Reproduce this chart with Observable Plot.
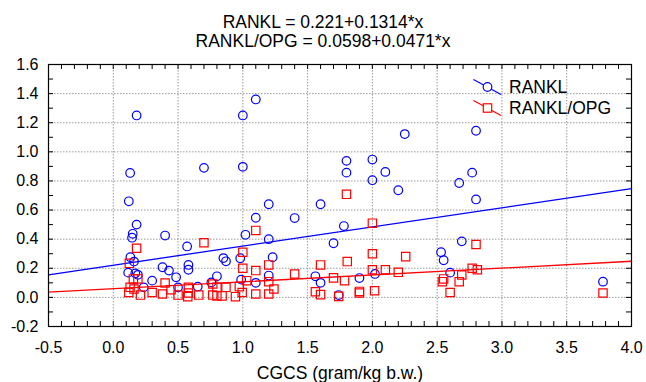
<!DOCTYPE html>
<html><head><meta charset="utf-8">
<script src="https://cdn.jsdelivr.net/npm/d3@7"></script>
<script src="https://cdn.jsdelivr.net/npm/@observablehq/plot@0.6"></script>
<style>
body{margin:0;background:#fff;font-family:"Liberation Sans",Arial,sans-serif;}
#title{width:646px;height:52px;box-sizing:border-box;padding-top:12.5px;text-align:center;font-size:17.5px;line-height:19.5px;color:#000;}
#chart svg{display:block;}
</style></head><body>
<div id="title"></div>
<div id="chart"></div>
<script>
const titleLines = ["RANKL = 0.221+0.1314*x", "RANKL/OPG = 0.0598+0.0471*x"];
const xLabel = "CGCS (gram/kg b.w.)";
const seriesNames = ["RANKL", "RANKL/OPG"];
const seriesColors = ["#0000ff", "#ff0000"];
const intercepts = [0.221, 0.0598];
const slopes = [0.1314, 0.0471];
const xTicks = [-0.5, 0.0, 0.5, 1.0, 1.5, 2.0, 2.5, 3.0, 3.5, 4.0];
const yTicks = [-0.2, 0.0, 0.2, 0.4, 0.6, 0.8, 1.0, 1.2, 1.4, 1.6];

const rankX = [0.12,0.13,0.18,0.18,0.15,0.145,0.132,0.16,0.115,0.17,0.19,0.235,0.30,0.38,0.40,0.43,0.485,0.50,0.57,0.58,0.58,0.652,0.70,0.757,0.80,0.85,0.87,0.98,0.987,1.00,1.00,1.02,1.10,1.10,1.10,1.20,1.20,1.23,1.20,1.40,1.56,1.60,1.60,1.70,1.74,1.78,1.80,1.80,1.90,2.00,2.00,2.02,2.10,2.20,2.25,2.53,2.55,2.60,2.67,2.69,2.77,2.80,2.80,3.78];
const rankY = [0.66,0.855,1.25,0.50,0.437,0.41,0.276,0.246,0.17,0.165,0.155,0.069,0.115,0.207,0.425,0.184,0.138,0.069,0.35,0.223,0.19,0.074,0.89,0.103,0.145,0.27,0.248,0.269,0.122,1.25,0.897,0.43,1.36,0.547,0.10,0.64,0.40,0.276,0.15,0.545,0.145,0.64,0.10,0.372,0.016,0.49,0.938,0.857,0.133,0.947,0.805,0.161,0.862,0.736,1.122,0.31,0.255,0.17,0.786,0.385,0.857,1.145,0.673,0.108];

const ratioX = [0.12,0.124,0.13,0.155,0.16,0.18,0.19,0.21,0.30,0.38,0.40,0.446,0.50,0.575,0.58,0.58,0.66,0.70,0.768,0.768,0.80,0.80,0.84,0.87,0.943,0.973,0.995,1.00,1.00,1.03,1.10,1.10,1.10,1.20,1.20,1.20,1.24,1.40,1.56,1.60,1.60,1.70,1.74,1.785,1.80,1.806,1.90,1.90,2.00,2.00,2.00,2.017,2.10,2.20,2.257,2.54,2.55,2.60,2.67,2.69,2.77,2.81,2.80,3.78];
const ratioY = [0.034,0.234,0.069,0.127,0.058,0.338,0.127,0.016,0.034,0.023,0.099,0.053,0.016,0.005,0.069,0.03,0.016,0.375,0.092,0.016,0.069,0.01,0.01,0.069,0.005,0.074,0.034,0.31,0.20,0.115,0.46,0.184,0.023,0.223,0.108,0.023,0.058,0.161,0.039,0.223,0.019,0.134,0.007,0.115,0.708,0.246,0.041,0.03,0.51,0.30,0.19,0.046,0.19,0.172,0.28,0.108,0.127,0.034,0.108,0.154,0.20,0.19,0.363,0.03];

document.getElementById("title").innerHTML = titleLines.map(t => `<div>${t}</div>`).join("");

const W = 646, H = 330, mT = 12, mB = 56, mL = 48, mR = 15;
const fw = W - mL - mR, fh = H - mT - mB;
const xDomain = [xTicks[0], xTicks[xTicks.length - 1]];
const yDomain = [yTicks[0], yTicks[yTicks.length - 1]];

const rank = rankX.map((x, i) => ({x, y: rankY[i]}));
const ratio = ratioX.map((x, i) => ({x, y: ratioY[i]}));
const fits = seriesNames.map((s, k) => xDomain.map(x => ({x, y: intercepts[k] + slopes[k] * x, s})));

const minorX = d3.range(Math.round(xDomain[0] * 10), Math.round(xDomain[1] * 10) + 1).map(i => i / 10);
const minorY = d3.range(Math.round(yDomain[0] * 10), Math.round(yDomain[1] * 10) + 1).map(i => i / 10);
const fmt = d => d.toFixed(1);
const tickLen = 5;

const plot = Plot.plot({
  width: W, height: H,
  marginTop: mT, marginBottom: mB, marginLeft: mL, marginRight: mR,
  style: {fontFamily: "Liberation Sans, Arial, sans-serif", fontSize: "16px", color: "#000", background: "#fff"},
  x: {domain: xDomain, label: null},
  y: {domain: yDomain, label: null},
  marks: [
    Plot.gridX(xTicks.slice(1, -1), {stroke: "#9a9a9a", strokeOpacity: 1, strokeDasharray: "1.5,1.5"}),
    Plot.gridY(yTicks.slice(1, -1), {stroke: "#9a9a9a", strokeOpacity: 1, strokeDasharray: "1.5,1.5"}),
    Plot.tickX(minorX, {x: d => d, insetTop: fh - tickLen, stroke: "#000"}),
    Plot.tickX(minorX, {x: d => d, insetBottom: fh - tickLen, stroke: "#000"}),
    Plot.tickY(minorY, {y: d => d, insetRight: fw - tickLen, stroke: "#000"}),
    Plot.tickY(minorY, {y: d => d, insetLeft: fw - tickLen, stroke: "#000"}),
    Plot.axisX({ticks: xTicks, tickSize: 0, tickPadding: 15, tickFormat: fmt, fontSize: 16, label: null}),
    Plot.axisY({ticks: yTicks, tickSize: 0, tickPadding: 10, tickFormat: fmt, fontSize: 16, label: null}),
    Plot.dot(rank, {x: "x", y: "y", r: 4.3, stroke: seriesColors[0], strokeWidth: 1.2, fill: "none"}),
    Plot.line(fits[0], {x: "x", y: "y", stroke: seriesColors[0], strokeWidth: 1.3}),
    Plot.dot(ratio, {x: "x", y: "y", r: 4.7, symbol: "square", stroke: seriesColors[1], strokeWidth: 1.2, fill: "none"}),
    Plot.line(fits[1], {x: "x", y: "y", stroke: seriesColors[1], strokeWidth: 1.3}),
    Plot.frame({stroke: "#000", strokeWidth: 1.2}),
    Plot.text([xLabel], {frameAnchor: "bottom", dy: 47, fontSize: 17.5, lineAnchor: "middle", fill: "#000"})
  ]
});
document.getElementById("chart").appendChild(plot);

// legend (top-right inside the frame)
const svg = d3.select(plot);
const lg = svg.append("g").attr("font-size", 17.5).attr("text-anchor", "start")
  .attr("font-family", "Liberation Sans, Arial, sans-serif");
const legX = mL + fw - 143.5, legY0 = mT + 23, legDy = 21;
seriesNames.forEach((name, k) => {
  const cy = legY0 + k * legDy;
  lg.append("line").attr("x1", legX - 14).attr("y1", cy - 7.5).attr("x2", legX + 13.5).attr("y2", cy + 7.5)
    .attr("stroke", seriesColors[k]).attr("stroke-width", 1.2);
  if (k === 0) {
    lg.append("circle").attr("cx", legX).attr("cy", cy).attr("r", 4.3)
      .attr("fill", "#fff").attr("stroke", seriesColors[k]).attr("stroke-width", 1.2);
  } else {
    lg.append("rect").attr("x", legX - 4.2).attr("y", cy - 4.2).attr("width", 8.4).attr("height", 8.4)
      .attr("fill", "#fffff4").attr("stroke", seriesColors[k]).attr("stroke-width", 1.2);
  }
  lg.append("text").attr("x", legX + 21.5).attr("y", cy).attr("dy", "0.35em")
    .attr("text-anchor", "start").attr("fill", "#000").attr("stroke", "none").text(name);
});
</script>
</body></html>
